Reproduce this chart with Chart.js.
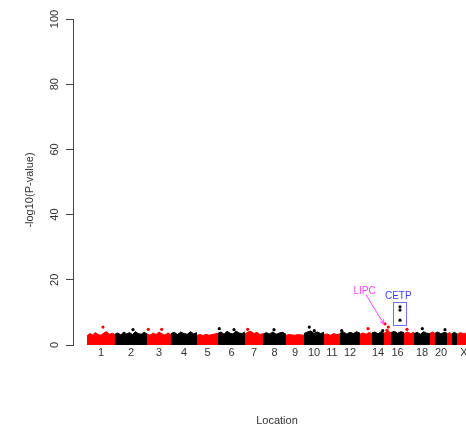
<!DOCTYPE html>
<html>
<head>
<meta charset="utf-8">
<script src="https://cdn.jsdelivr.net/npm/chart.js@4.4.0/dist/chart.umd.min.js"></script>
<style>
html, body { margin: 0; padding: 0; background: #fff; }
</style>
</head>
<body>
<canvas id="manhattan" width="466" height="429"></canvas>
<script>
// chromosomes and their spans along the genome axis
var chromNames = ["1","2","3","4","5","6","7","8","9","10","11","12","13","14","15","16","17","18","19","20","21","22","X"];
var chromSpans = [28,32,24,26,21,27,18,23,18,20,16,20,12,12,7,13,10,16,5,12,5,5,14];
var shownLabels = ["1","2","3","4","5","6","7","8","9","10","11","12","14","16","18","20","X"];
var yTicks = [0, 20, 40, 60, 80, 100];

// top edge of the dense band of SNPs, per chromosome
var bandTops = [
  [2.8,3.5,3.1,3.8,3.2,3.0,3.7,4.1,3.3,3.6,3.2],
  [3.3,3.7,3.1,4.0,3.4,3.8,3.2,4.1,3.5,3.3,3.9,3.4],
  [3.4,3.0,3.7,3.2,4.0,3.4,3.1,3.7,3.2],
  [3.5,3.9,3.2,4.0,3.5,3.3,4.1,3.4,3.8],
  [3.0,3.2,2.9,3.3,3.0,3.2,3.4,3.6],
  [3.6,4.0,3.3,4.2,3.6,3.4,4.3,3.7,3.5,4.0],
  [3.4,4.0,4.2,3.5,3.9,3.2,3.5],
  [3.3,3.8,3.4,4.0,3.3,3.7,3.9,3.3],
  [3.0,3.2,3.1,3.0,3.2,3.1,3.0],
  [3.5,4.0,4.3,3.6,4.0,3.5,3.9],
  [3.2,3.4,3.0,3.5,3.2,3.4],
  [3.6,4.0,3.4,3.9,3.5,4.1,3.6],
  [3.3,3.7,3.3,3.8,3.5],
  [3.7,4.0,3.4,4.1,3.6],
  [3.6,4.2,3.8],
  [3.8,4.2,3.6,4.1,3.8],
  [3.5,4.0,3.5,3.9],
  [3.5,3.9,3.3,4.1,3.6,3.5],
  [3.6,4.0,3.5],
  [3.6,4.0,3.4,3.9,3.6],
  [3.4,3.8,3.3],
  [3.5,3.9,3.4],
  [3.3,3.8,3.4,3.9,3.4]
];

// individual SNPs standing out above the band
var hitChrom = ["1","2","3","3","6","6","7","8","10","10","12","13","14","15","15","15","16","16","16","17","18","20"];
var hitPos   = [16, 18, 1.3, 14.7, 1.3, 16, 2.7, 11, 5.3, 10.3, 1.7, 8, 10.7, 1, 4.3, 3, 9, 9, 9, 3, 8.3, 10];
var hitLogP  = [5.5, 4.7, 4.8, 4.8, 5.0, 4.7, 4.8, 4.7, 5.5, 4.4, 4.4, 5.0, 4.4, 6.5, 5.5, 4.5, 11.7, 10.7, 7.6, 4.8, 5.0, 4.7];

var chromStart = {};
var chromMid = {};
var acc = 0;
chromNames.forEach(function (c, i) {
  chromStart[c] = acc;
  chromMid[c] = acc + chromSpans[i] / 2;
  acc += chromSpans[i];
});

function chromColor(i) {
  return i % 2 === 0 ? "#ff0000" : "#000000";
}

var datasets = [];

// hits first so they draw on top
var hitPoints = [];
var hitColors = [];
hitChrom.forEach(function (c, i) {
  hitPoints.push({ x: chromStart[c] + hitPos[i], y: hitLogP[i] });
  hitColors.push(chromColor(chromNames.indexOf(c)));
});
datasets.push({
  data: hitPoints,
  pointRadius: 1.6,
  pointBackgroundColor: hitColors,
  pointBorderWidth: 0,
  order: 0
});

chromNames.forEach(function (c, i) {
  var tops = bandTops[i];
  var pts = tops.map(function (h, k) {
    return { x: chromStart[c] + chromSpans[i] * k / (tops.length - 1), y: h };
  });
  datasets.push({
    data: pts,
    showLine: true,
    fill: "origin",
    borderColor: chromColor(i),
    backgroundColor: chromColor(i),
    borderWidth: 1,
    pointRadius: 0,
    tension: 0,
    order: 1
  });
});

// labels, axis texts and gene annotations
var extrasPlugin = {
  id: "extras",
  afterDraw: function (chart) {
    var ctx = chart.ctx;
    var xs = chart.scales.x;
    var ys = chart.scales.y;
    ctx.save();

    ctx.fillStyle = "#333";
    ctx.font = "11px 'Liberation Sans', Arial, sans-serif";
    ctx.textAlign = "center";
    ctx.textBaseline = "middle";

    // x labels at chromosome centres
    shownLabels.forEach(function (c) {
      ctx.fillText(c, xs.getPixelForValue(chromMid[c]), 353);
    });

    // y tick labels, rotated like in R
    yTicks.forEach(function (v) {
      ctx.save();
      ctx.translate(55, ys.getPixelForValue(v));
      ctx.rotate(-Math.PI / 2);
      ctx.fillText(String(v), 0, 0);
      ctx.restore();
    });

    // axis titles
    ctx.save();
    ctx.translate(30, 190);
    ctx.rotate(-Math.PI / 2);
    ctx.fillText("-log10(P-value)", 0, 0);
    ctx.restore();
    ctx.fillText("Location", 277, 421);

    // LIPC label and arrow
    ctx.font = "10px 'Liberation Sans', Arial, sans-serif";
    ctx.fillStyle = "#ff40ff";
    ctx.strokeStyle = "#ff40ff";
    ctx.lineWidth = 1;
    ctx.fillText("LIPC", xs.getPixelForValue(277.5), ys.getPixelForValue(16.5));
    var ax0 = xs.getPixelForValue(279), ay0 = ys.getPixelForValue(15.4);
    var ax1 = xs.getPixelForValue(297), ay1 = ys.getPixelForValue(6.4);
    ctx.beginPath();
    ctx.moveTo(ax0, ay0);
    ctx.lineTo(ax1, ay1);
    var ang = Math.atan2(ay1 - ay0, ax1 - ax0);
    ctx.moveTo(ax1, ay1);
    ctx.lineTo(ax1 - 5 * Math.cos(ang - 0.45), ay1 - 5 * Math.sin(ang - 0.45));
    ctx.moveTo(ax1, ay1);
    ctx.lineTo(ax1 - 5 * Math.cos(ang + 0.45), ay1 - 5 * Math.sin(ang + 0.45));
    ctx.stroke();

    // CETP label and box
    ctx.fillStyle = "#4040ff";
    ctx.strokeStyle = "#7070ff";
    ctx.fillText("CETP", xs.getPixelForValue(311.3), ys.getPixelForValue(15));
    var bx0 = xs.getPixelForValue(306.3), bx1 = xs.getPixelForValue(319.7);
    var by0 = ys.getPixelForValue(13.1), by1 = ys.getPixelForValue(6.1);
    ctx.strokeRect(Math.round(bx0) + 0.5, Math.round(by0) + 0.5, Math.round(bx1 - bx0), Math.round(by1 - by0));

    ctx.restore();
  }
};

var ctx = document.getElementById("manhattan").getContext("2d");
var chart = new Chart(ctx, {
  type: "scatter",
  data: { datasets: datasets },
  plugins: [extrasPlugin],
  options: {
    responsive: false,
    animation: false,
    devicePixelRatio: 1,
    layout: { autoPadding: false, padding: { top: 19, right: 0, bottom: 0, left: 0 } },
    plugins: {
      legend: { display: false },
      tooltip: { enabled: false }
    },
    scales: {
      x: {
        type: "linear",
        min: -14,
        max: 379,
        grid: { display: false, drawTicks: false },
        border: { display: false },
        afterFit: function (scale) { scale.height = 84; },
        ticks: { display: false }
      },
      y: {
        min: 0,
        max: 100,
        afterFit: function (scale) { scale.width = 73; },
        afterBuildTicks: function (scale) {
          scale.ticks = yTicks.map(function (v) { return { value: v }; });
        },
        grid: {
          drawOnChartArea: false,
          drawTicks: true,
          tickLength: 7,
          color: "#444"
        },
        border: { display: true, color: "#444" },
        ticks: { display: false }
      }
    }
  }
});
</script>
</body>
</html>
